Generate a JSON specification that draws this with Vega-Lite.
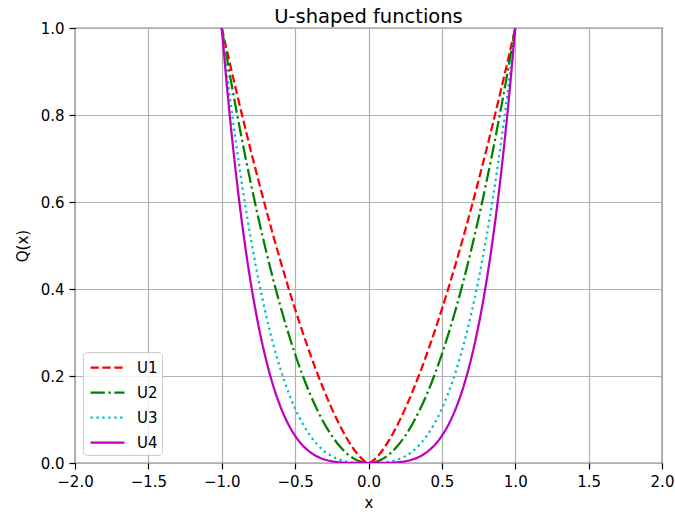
{
  "$schema": "https://vega.github.io/schema/vega-lite/v6.json",
  "width": 587,
  "height": 435,
  "autosize": {"type": "none"},
  "padding": {"left": 75, "top": 28, "right": 13, "bottom": 56},
  "background": "white",
  "title": {"text": "U-shaped functions", "fontSize": 19.5, "font": "DejaVu Sans", "fontWeight": "normal", "color": "black", "offset": -6, "frame": "group", "anchor": "middle"},
  "config": {
    "view": {"stroke": "black", "strokeWidth": 1.2},
    "font": "DejaVu Sans",
    "axis": {
      "domain": false,
      "grid": true,
      "gridColor": "#b0b0b0",
      "gridWidth": 1.2,
      "tickColor": "black",
      "tickSize": 6,
      "tickWidth": 1.2,
      "labelFlush": false,
      "labelOverlap": false,
      "labelFont": "DejaVu Sans",
      "labelFontSize": 15,
      "labelColor": "black",
      "labelPadding": 5,
      "titleFont": "DejaVu Sans",
      "titleFontSize": 15,
      "titleFontWeight": "normal",
      "titleColor": "black"
    }
  },
  "data": {
    "values": [
      {"x": -1.0, "U1": 1, "U2": 1, "U3": 1, "U4": 1},
      {"x": -0.95, "U1": 0.92595, "U2": 0.9025, "U3": 0.857375, "U4": 0.81450625},
      {"x": -0.9, "U1": 0.85381, "U2": 0.81, "U3": 0.729, "U4": 0.6561},
      {"x": -0.85, "U1": 0.78366, "U2": 0.7225, "U3": 0.614125, "U4": 0.52200625},
      {"x": -0.8, "U1": 0.71554, "U2": 0.64, "U3": 0.512, "U4": 0.4096},
      {"x": -0.75, "U1": 0.64952, "U2": 0.5625, "U3": 0.421875, "U4": 0.31640625},
      {"x": -0.7, "U1": 0.58566, "U2": 0.49, "U3": 0.343, "U4": 0.2401},
      {"x": -0.65, "U1": 0.52405, "U2": 0.4225, "U3": 0.274625, "U4": 0.17850625},
      {"x": -0.6, "U1": 0.46476, "U2": 0.36, "U3": 0.216, "U4": 0.1296},
      {"x": -0.55, "U1": 0.40789, "U2": 0.3025, "U3": 0.166375, "U4": 0.09150625},
      {"x": -0.5, "U1": 0.35355, "U2": 0.25, "U3": 0.125, "U4": 0.0625},
      {"x": -0.45, "U1": 0.30187, "U2": 0.2025, "U3": 0.091125, "U4": 0.04100625},
      {"x": -0.4, "U1": 0.25298, "U2": 0.16, "U3": 0.064, "U4": 0.0256},
      {"x": -0.35, "U1": 0.20706, "U2": 0.1225, "U3": 0.042875, "U4": 0.01500625},
      {"x": -0.3, "U1": 0.16432, "U2": 0.09, "U3": 0.027, "U4": 0.0081},
      {"x": -0.25, "U1": 0.125, "U2": 0.0625, "U3": 0.015625, "U4": 0.00390625},
      {"x": -0.2, "U1": 0.08944, "U2": 0.04, "U3": 0.008, "U4": 0.0016},
      {"x": -0.15, "U1": 0.05809, "U2": 0.0225, "U3": 0.003375, "U4": 0.00050625},
      {"x": -0.1, "U1": 0.03162, "U2": 0.01, "U3": 0.001, "U4": 0.0001},
      {"x": -0.05, "U1": 0.01118, "U2": 0.0025, "U3": 0.000125, "U4": 0.00000625},
      {"x": 0.0, "U1": 0, "U2": 0, "U3": 0, "U4": 0},
      {"x": 0.05, "U1": 0.01118, "U2": 0.0025, "U3": 0.000125, "U4": 0.00000625},
      {"x": 0.1, "U1": 0.03162, "U2": 0.01, "U3": 0.001, "U4": 0.0001},
      {"x": 0.15, "U1": 0.05809, "U2": 0.0225, "U3": 0.003375, "U4": 0.00050625},
      {"x": 0.2, "U1": 0.08944, "U2": 0.04, "U3": 0.008, "U4": 0.0016},
      {"x": 0.25, "U1": 0.125, "U2": 0.0625, "U3": 0.015625, "U4": 0.00390625},
      {"x": 0.3, "U1": 0.16432, "U2": 0.09, "U3": 0.027, "U4": 0.0081},
      {"x": 0.35, "U1": 0.20706, "U2": 0.1225, "U3": 0.042875, "U4": 0.01500625},
      {"x": 0.4, "U1": 0.25298, "U2": 0.16, "U3": 0.064, "U4": 0.0256},
      {"x": 0.45, "U1": 0.30187, "U2": 0.2025, "U3": 0.091125, "U4": 0.04100625},
      {"x": 0.5, "U1": 0.35355, "U2": 0.25, "U3": 0.125, "U4": 0.0625},
      {"x": 0.55, "U1": 0.40789, "U2": 0.3025, "U3": 0.166375, "U4": 0.09150625},
      {"x": 0.6, "U1": 0.46476, "U2": 0.36, "U3": 0.216, "U4": 0.1296},
      {"x": 0.65, "U1": 0.52405, "U2": 0.4225, "U3": 0.274625, "U4": 0.17850625},
      {"x": 0.7, "U1": 0.58566, "U2": 0.49, "U3": 0.343, "U4": 0.2401},
      {"x": 0.75, "U1": 0.64952, "U2": 0.5625, "U3": 0.421875, "U4": 0.31640625},
      {"x": 0.8, "U1": 0.71554, "U2": 0.64, "U3": 0.512, "U4": 0.4096},
      {"x": 0.85, "U1": 0.78366, "U2": 0.7225, "U3": 0.614125, "U4": 0.52200625},
      {"x": 0.9, "U1": 0.85381, "U2": 0.81, "U3": 0.729, "U4": 0.6561},
      {"x": 0.95, "U1": 0.92595, "U2": 0.9025, "U3": 0.857375, "U4": 0.81450625},
      {"x": 1.0, "U1": 1, "U2": 1, "U3": 1, "U4": 1}
    ]
  },
  "transform": [{"fold": ["U1", "U2", "U3", "U4"], "as": ["series", "Q"]}],
  "mark": {"type": "line", "strokeWidth": 2.25, "interpolate": "monotone", "clip": true},
  "encoding": {
    "x": {"field": "x", "type": "quantitative", "scale": {"domain": [-2, 2], "nice": false, "zero": false},
      "axis": {"values": [-2, -1.5, -1, -0.5, 0, 0.5, 1, 1.5, 2], "format": ".1f", "title": "x", "titlePadding": 6}},
    "y": {"field": "Q", "type": "quantitative", "scale": {"domain": [0, 1], "nice": false},
      "axis": {"values": [0, 0.2, 0.4, 0.6, 0.8, 1.0], "format": ".1f", "title": "Q(x)", "titlePadding": 10}},
    "color": {"field": "series", "type": "nominal",
      "scale": {"domain": ["U1", "U2", "U3", "U4"], "range": ["#ff0000", "#008000", "#00bfbf", "#bf00bf"]},
      "legend": {
        "title": null, "orient": "bottom-left", "offset": 8,
        "symbolType": "M-1.7,0H1.7", "symbolSize": 400, "symbolStrokeWidth": 2.25, "symbolOffset": 9,
        "labelFontSize": 15, "labelFont": "DejaVu Sans", "labelColor": "black",
        "fillColor": "rgba(255,255,255,0.8)", "strokeColor": "#cccccc", "cornerRadius": 4,
        "padding": 4, "rowPadding": 5, "labelOffset": 18
      }},
    "strokeDash": {"field": "series", "type": "nominal",
      "scale": {"domain": ["U1", "U2", "U3", "U4"], "range": [[8.3, 3.6], [14.4, 3.6, 2.25, 3.6], [2.25, 3.7], [1, 0]]},
      "legend": null}
  }
}
